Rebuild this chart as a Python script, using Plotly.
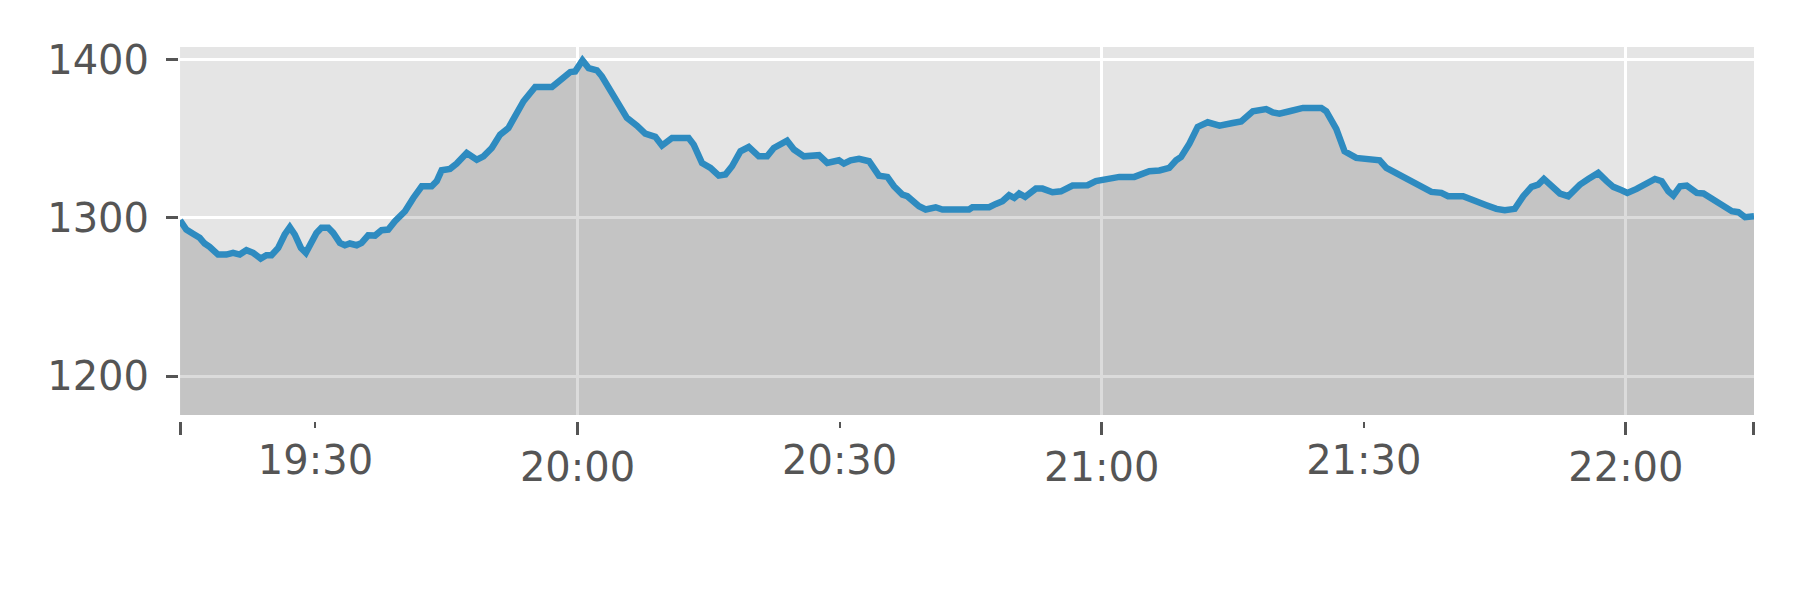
import plotly.graph_objects as go

# ---- data ----
times = [
    "19:14:30", "19:15:13", "19:15:59", "19:16:45", "19:17:19", "19:17:53", "19:18:51", "19:19:48",
    "19:20:34", "19:21:20", "19:22:06", "19:22:52", "19:23:44", "19:24:23", "19:24:58", "19:25:44",
    "19:26:29", "19:27:04", "19:27:38", "19:28:20", "19:28:54", "19:29:33", "19:30:07", "19:30:41",
    "19:31:28", "19:32:02", "19:32:48", "19:33:22", "19:33:56", "19:34:43", "19:35:17", "19:36:02",
    "19:36:49", "19:37:34", "19:38:20", "19:39:06", "19:40:15", "19:41:12", "19:42:10", "19:43:18",
    "19:43:53", "19:44:27", "19:45:24", "19:46:10", "19:47:19", "19:48:28", "19:49:14", "19:50:11",
    "19:51:08", "19:52:05", "19:52:52", "19:53:49", "19:55:09", "19:57:04", "19:57:38", "19:58:35",
    "19:59:10", "19:59:44", "20:00:34", "20:01:16", "20:02:13", "20:02:47", "20:03:33", "20:04:30",
    "20:05:39", "20:06:48", "20:07:45", "20:08:54", "20:09:40", "20:10:49", "20:12:43", "20:13:18",
    "20:14:15", "20:15:13", "20:16:10", "20:16:56", "20:17:41", "20:18:39", "20:19:36", "20:20:45",
    "20:21:42", "20:22:28", "20:23:14", "20:23:59", "20:24:46", "20:25:55", "20:27:38", "20:28:35",
    "20:29:55", "20:30:29", "20:31:15", "20:32:13", "20:33:22", "20:34:30", "20:35:28", "20:36:13",
    "20:37:11", "20:37:45", "20:39:05", "20:39:51", "20:41:00", "20:41:46", "20:42:32", "20:44:49",
    "20:45:12", "20:47:07", "20:47:53", "20:48:38", "20:49:24", "20:49:59", "20:50:33", "20:51:14",
    "20:52:28", "20:53:13", "20:54:22", "20:55:20", "20:56:40", "20:58:23", "20:59:20", "21:01:15",
    "21:02:01", "21:03:44", "21:04:41", "21:05:27", "21:06:36", "21:07:44", "21:08:31", "21:09:05",
    "21:10:02", "21:10:59", "21:12:08", "21:13:29", "21:15:00", "21:15:58", "21:17:18", "21:18:49",
    "21:19:35", "21:20:21", "21:21:30", "21:23:02", "21:25:08", "21:25:42", "21:26:51", "21:27:48",
    "21:29:08", "21:30:06", "21:30:40", "21:31:49", "21:32:35", "21:33:55", "21:35:04", "21:35:50",
    "21:36:35", "21:37:44", "21:38:53", "21:39:39", "21:41:22", "21:42:31", "21:44:02", "21:45:11",
    "21:46:08", "21:47:17", "21:48:15", "21:49:12", "21:49:58", "21:50:37", "21:51:29", "21:52:27",
    "21:53:24", "21:54:44", "21:55:42", "21:56:50", "21:57:48", "21:58:34", "21:59:31", "22:00:10",
    "22:01:14", "22:02:23", "22:03:20", "22:04:06", "22:04:52", "22:05:26", "22:06:12", "22:06:58",
    "22:08:07", "22:08:53", "22:10:01", "22:11:10", "22:12:08", "22:12:53", "22:13:39", "22:14:40",
]
values = [
    1298.5, 1292.6, 1290.0, 1287.4, 1283.8, 1281.7, 1276.8, 1276.8,
    1277.9, 1276.8, 1279.6, 1277.9, 1274.3, 1276.4, 1276.4, 1281.0,
    1289.5, 1294.1, 1289.5, 1281.0, 1277.9, 1284.2, 1290.5, 1293.7,
    1293.7, 1290.5, 1284.2, 1282.7, 1283.8, 1282.7, 1284.2, 1289.0,
    1288.8, 1292.2, 1292.6, 1297.9, 1304.2, 1312.6, 1320.0, 1320.0,
    1323.2, 1330.1, 1331.0, 1334.3, 1341.0, 1336.8, 1338.9, 1344.2,
    1352.6, 1356.8, 1364.2, 1373.7, 1382.7, 1382.7, 1385.3, 1389.5,
    1392.2, 1392.6, 1399.6, 1394.7, 1393.3, 1389.5, 1382.1, 1372.6,
    1363.2, 1358.3, 1353.3, 1351.2, 1345.7, 1350.5, 1350.5, 1346.3,
    1334.7, 1331.6, 1326.7, 1327.4, 1332.6, 1342.1, 1344.8, 1338.9,
    1338.9, 1344.2, 1346.9, 1348.8, 1343.2, 1338.9, 1339.6, 1334.7,
    1336.4, 1334.3, 1336.4, 1337.3, 1335.8, 1326.7, 1325.9, 1320.0,
    1314.7, 1313.7, 1307.4, 1305.3, 1306.7, 1305.3, 1305.3, 1305.3,
    1306.7, 1306.7, 1308.8, 1310.5, 1314.3, 1312.6, 1315.4, 1313.3,
    1318.5, 1318.5, 1316.2, 1316.8, 1320.4, 1320.6, 1323.2, 1324.8,
    1325.9, 1325.9, 1328.0, 1329.5, 1330.0, 1331.6, 1336.4, 1338.5,
    1346.9, 1357.5, 1360.4, 1358.3, 1360.0, 1361.0, 1367.4, 1368.8,
    1366.7, 1365.9, 1367.4, 1369.5, 1369.5, 1367.4, 1356.2, 1342.1,
    1337.9, 1337.5, 1336.4, 1336.4, 1331.6, 1327.4, 1324.6, 1321.7,
    1320.0, 1316.4, 1315.8, 1313.7, 1313.7, 1310.9, 1308.0, 1305.7,
    1304.8, 1305.7, 1313.7, 1319.6, 1321.0, 1324.6, 1319.6, 1315.4,
    1313.7, 1321.0, 1324.6, 1328.4, 1323.2, 1319.6, 1317.5, 1315.8,
    1318.3, 1321.7, 1324.6, 1323.2, 1316.8, 1314.1, 1320.0, 1320.4,
    1315.8, 1315.4, 1311.6, 1306.7, 1304.2, 1303.6, 1300.4, 1301.0,
]
major_labels = ["20:00", "21:00", "22:00"]
minor_labels = ["19:30", "20:30", "21:30"]
y_ticks = [1200, 1300, 1400]
y_range = [1175.4, 1408.0]

DAY = "2024-01-01 "
x = [DAY + t for t in times]
x_range = [x[0], x[-1]]

GREY = "#555555"
FONT = dict(family="DejaVu Sans", size=40, color=GREY)

fig = go.Figure()
fig.add_trace(go.Scatter(
    x=x, y=values, mode="lines",
    line=dict(color="#2e8bc0", width=6.5),
    fill="tozeroy", fillcolor="rgba(0,0,0,0.14)",
    showlegend=False, hoverinfo="skip",
))
# invisible helper trace so the half-hour axis is drawn
fig.add_trace(go.Scatter(
    x=[x[0]], y=[values[0]], xaxis="x2", mode="markers",
    marker=dict(opacity=0), showlegend=False, hoverinfo="skip",
))

# page body has an 8px margin, so margins are shifted accordingly
fig.update_layout(
    width=1800, height=600,
    margin=dict(l=170, r=54, t=39, b=187),
    paper_bgcolor="white", plot_bgcolor="#E5E5E5",
    xaxis=dict(
        type="date", range=x_range, domain=[0.0013, 1],
        anchor="free", position=0,
        tickmode="array",
        tickvals=[DAY + t for t in major_labels],
        ticktext=major_labels,
        ticks="outside", ticklen=13, tickwidth=3, tickcolor=GREY,
        ticklabelstandoff=-2,
        minor=dict(tickvals=x_range, ticks="outside", ticklen=13,
                   tickwidth=3, tickcolor=GREY, showgrid=False),
        showgrid=True, gridcolor="white", gridwidth=2.5,
        zeroline=False, showline=False, tickfont=FONT,
    ),
    xaxis2=dict(
        type="date", range=x_range, domain=[0.0013, 1],
        overlaying="x", anchor="free", position=0, side="bottom",
        tickmode="array",
        tickvals=[DAY + t for t in minor_labels],
        ticktext=minor_labels,
        ticks="outside", ticklen=6, tickwidth=2, tickcolor=GREY,
        ticklabelstandoff=-2,
        showgrid=False, zeroline=False, showline=False, tickfont=FONT,
    ),
    yaxis=dict(
        range=y_range, domain=[0.016, 1],
        anchor="free", position=0,
        tickmode="array", tickvals=y_ticks,
        ticks="outside", ticklen=12, tickwidth=3, tickcolor=GREY,
        ticklabelstandoff=9,
        showgrid=True, gridcolor="white", gridwidth=2.5,
        zeroline=False, showline=False, tickfont=FONT,
    ),
)

fig.write_html("out.html")
